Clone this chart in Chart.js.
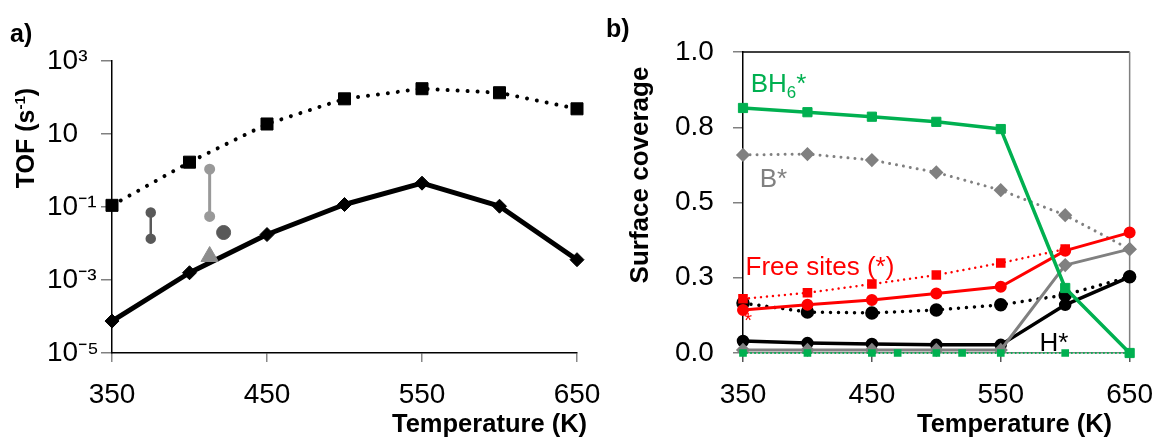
<!DOCTYPE html>
<html><head><meta charset="utf-8">
<script src="https://cdn.jsdelivr.net/npm/chart.js@4"></script>
<style>
html,body{margin:0;padding:0;background:#fff;}
#wrap{position:relative;width:1169px;height:437px;overflow:hidden;font-family:"Liberation Sans",Arial,sans-serif;}
canvas{position:absolute;left:0;top:0;}
.t{position:absolute;white-space:nowrap;font-weight:bold;color:#000;line-height:1;}
.t sup{font-size:60%;vertical-align:0.6em;line-height:0;}
.rot{transform:translate(-50%,-50%) rotate(-90deg);}
</style></head><body>
<div id="wrap">
<canvas id="ca" width="1169" height="437"></canvas>
<canvas id="cb" width="1169" height="437"></canvas>
<div class="t" style="left:10px;top:21px;font-size:25px;">a)</div>
<div class="t" style="left:606px;top:16px;font-size:25px;">b)</div>
<div class="t rot" style="left:25px;top:138px;font-size:25px;">TOF (s<sup>-1</sup>)</div>
<div class="t rot" style="left:639px;top:175px;font-size:26px;">Surface coverage</div>
<div class="t" style="left:392px;top:411px;font-size:25.5px;">Temperature (K)</div>
<div class="t" style="left:917px;top:411px;font-size:25.5px;">Temperature (K)</div>
</div>
<script>
// ---------- data: panel a ----------
const temps = [350, 400, 450, 500, 550, 600, 650];
const tofDotted = [0.111, 1.69, 18.8, 92, 174, 135, 49];
const tofSolid = [7.5e-5, 1.58e-3, 0.0176, 0.117, 0.45, 0.105, 3.6e-3];
const expBar1T = [375, 375];
const expBar1 = [0.071, 0.0136];
const expBar2T = [413, 413];
const expBar2 = [1.09, 0.055];
const expCircleT = [422];
const expCircle = [0.020];
const expTriT = [413];
const expTri = [0.0044];
const tofTickVals = [1e3, 1e1, 1e-1, 1e-3, 1e-5];
const tofTickLabels = ['10\u00B3', '10', '10\u207B\u00B9', '10\u207B\u00B3', '10\u207B\u2075'];
const tempTicks = [350, 450, 550, 650];

// ---------- data: panel b ----------
const bh6 = [0.814, 0.800, 0.785, 0.768, 0.744, 0.216, 0.0];
const bStar = [0.658, 0.661, 0.641, 0.600, 0.541, 0.458, 0.345];
const graySolid = [0.01, 0.01, 0.01, 0.01, 0.01, 0.292, 0.345];
const freeSolid = [0.143, 0.160, 0.176, 0.198, 0.220, 0.340, 0.400];
const freeDottedT = [350, 400, 450, 500, 550, 600];
const freeDotted = [0.180, 0.200, 0.229, 0.259, 0.299, 0.345];
const hSolid = [0.040, 0.033, 0.030, 0.027, 0.027, 0.160, 0.253];
const hDotted = [0.166, 0.136, 0.133, 0.143, 0.160, 0.193, 0.253];
const zeroT = [350, 400, 450, 470, 500, 520, 550, 600, 650];
const zeroVals = [0, 0, 0, 0, 0, 0, 0, 0, 0];
const covTickVals = [0, 0.25, 0.5, 0.75, 1.0];

const FONT = '"Liberation Sans", Arial, sans-serif';
const pts = (xs, ys) => xs.map((x, i) => ({x: x, y: ys[i]}));

const textLabels = {
  id: 'textLabels',
  afterDatasetsDraw(chart, args, opts) {
    const ctx = chart.ctx, xs = chart.scales.x, ys = chart.scales.y;
    (opts.items || []).forEach(it => {
      let px = xs.getPixelForValue(it.x);
      const py = ys.getPixelForValue(it.y);
      ctx.save();
      ctx.fillStyle = it.color;
      ctx.textBaseline = 'alphabetic';
      ctx.textAlign = 'left';
      it.parts.forEach(p => {
        const size = p.sub ? it.size * 0.65 : it.size;
        ctx.font = size + 'px ' + FONT;
        ctx.fillText(p.t, px, py + (p.sub ? it.size * 0.22 : 0));
        px += ctx.measureText(p.t).width;
      });
      ctx.restore();
    });
  }
};

const frame = {
  id: 'frame',
  beforeDatasetsDraw(chart) {
    const ctx = chart.ctx, a = chart.chartArea;
    ctx.save();
    ctx.lineWidth = 1.5;
    ctx.strokeStyle = '#000';
    ctx.beginPath(); ctx.moveTo(a.left, a.top); ctx.lineTo(a.right, a.top); ctx.stroke();
    ctx.strokeStyle = '#808080';
    ctx.beginPath(); ctx.moveTo(a.right, a.top); ctx.lineTo(a.right, a.bottom); ctx.stroke();
    ctx.restore();
  }
};

function xScale(tickColor, borderColor) {
  return {
    type: 'linear', min: 350, max: 650,
    afterBuildTicks: s => { s.ticks = tempTicks.map(v => ({value: v})); },
    afterFit: s => { s.height = 84; },
    ticks: {autoSkip: false, maxRotation: 0, color: '#000', padding: 16, font: {family: FONT, size: 28}},
    grid: {drawOnChartArea: false, drawTicks: true, tickLength: 9, color: tickColor, lineWidth: 1.5},
    border: {display: true, color: borderColor, width: 1.5}
  };
}

const common = {
  responsive: false, animation: false, devicePixelRatio: 1,
  plugins: {legend: {display: false}, tooltip: {enabled: false}},
  elements: {line: {tension: 0, borderJoinStyle: 'round'}, point: {hoverRadius: 0}}
};

// ---------- chart a ----------
new Chart(document.getElementById('ca'), {
  type: 'line',
  data: {datasets: [
    {data: pts(temps, tofDotted), borderColor: '#000', borderWidth: 4, borderDash: [0.01, 10], borderCapStyle: 'round',
     pointStyle: 'rect', pointRadius: 8.5, pointBackgroundColor: '#000', pointBorderColor: '#000', pointBorderWidth: 1, order: 1},
    {data: pts(temps, tofSolid), borderColor: '#000', borderWidth: 5,
     pointStyle: 'rectRot', pointRadius: 7, pointBackgroundColor: '#000', pointBorderColor: '#000', pointBorderWidth: 1, order: 2},
    {data: pts(expBar1T, expBar1), borderColor: '#595959', borderWidth: 2.5,
     pointStyle: 'circle', pointRadius: 4, pointBackgroundColor: '#595959', pointBorderColor: '#595959', order: 3},
    {data: pts(expBar2T, expBar2), borderColor: '#999999', borderWidth: 3,
     pointStyle: 'circle', pointRadius: 4, pointBackgroundColor: '#999999', pointBorderColor: '#999999', order: 3},
    {data: pts(expCircleT, expCircle), showLine: false,
     pointStyle: 'circle', pointRadius: 7, pointBackgroundColor: '#595959', pointBorderColor: '#595959', order: 3},
    {data: pts(expTriT, expTri), showLine: false,
     pointStyle: 'triangle', pointRadius: 10, pointBackgroundColor: '#8c8c8c', pointBorderColor: '#8c8c8c', order: 0}
  ]},
  options: Object.assign({}, common, {
    layout: {padding: {left: 47, right: 1169 - 577, top: 61, bottom: 0}},
    clip: false,
    scales: {
      x: xScale('#888888', '#000'),
      y: {
        type: 'logarithmic', min: 1e-5, max: 1e3,
        afterBuildTicks: s => { s.ticks = tofTickVals.map(v => ({value: v})); },
        afterFit: s => { s.width = 65; },
        ticks: {autoSkip: false, crossAlign: 'far', color: '#000', font: {family: FONT, size: 28},
                callback: (v, i) => tofTickLabels[i]},
        grid: {drawOnChartArea: false, drawTicks: true, tickLength: 11, color: '#808080', lineWidth: 1.5},
        border: {display: true, color: '#000', width: 1.5}
      }
    }
  })
});

// ---------- chart b ----------
const G = '#00B050', R = '#FF0000', GR = '#808080';
new Chart(document.getElementById('cb'), {
  type: 'line',
  data: {datasets: [
    {data: pts(temps, bh6), borderColor: G, borderWidth: 3.5,
     pointStyle: 'rect', pointRadius: 6.5, pointBackgroundColor: G, pointBorderColor: G, pointBorderWidth: 1, order: 0},
    {data: pts(zeroT, zeroVals), borderColor: G, borderWidth: 2, borderDash: [0.01, 4], borderCapStyle: 'round',
     pointStyle: 'rect', pointRadius: 4, pointBackgroundColor: G, pointBorderColor: G, order: 1},
    {data: pts(temps, graySolid), borderColor: GR, borderWidth: 3,
     pointStyle: 'rectRot', pointRadius: 5, pointBackgroundColor: GR, pointBorderColor: GR, order: 4},
    {data: pts(temps, bStar), borderColor: GR, borderWidth: 3, borderDash: [0.01, 7], borderCapStyle: 'round',
     pointStyle: 'rectRot', pointRadius: 5, pointBackgroundColor: GR, pointBorderColor: GR, order: 5},
    {data: pts(temps, freeSolid), borderColor: R, borderWidth: 3,
     pointStyle: 'circle', pointRadius: 4.5, pointBackgroundColor: R, pointBorderColor: R, order: 2},
    {data: pts(freeDottedT, freeDotted), borderColor: R, borderWidth: 2.5, borderDash: [0.01, 6], borderCapStyle: 'round',
     pointStyle: 'rect', pointRadius: 5, pointBackgroundColor: R, pointBorderColor: R, order: 3},
    {data: pts(temps, hSolid), borderColor: '#000', borderWidth: 3.5,
     pointStyle: 'circle', pointRadius: 4.5, pointBackgroundColor: '#000', pointBorderColor: '#000', order: 6},
    {data: pts(temps, hDotted), borderColor: '#000', borderWidth: 3.5, borderDash: [0.01, 8], borderCapStyle: 'round',
     pointStyle: 'circle', pointRadius: 5, pointBackgroundColor: '#000', pointBorderColor: '#000', order: 7}
  ]},
  plugins: [frame, textLabels],
  options: Object.assign({}, common, {
    layout: {padding: {left: 675, right: 1169 - 1140, top: 52, bottom: 0}},
    clip: false,
    plugins: {
      legend: {display: false}, tooltip: {enabled: false},
      textLabels: {items: [
        {x: 356, y: 0.867, color: G, size: 26, parts: [{t: 'BH'}, {t: '6', sub: true}, {t: '*'}]},
        {x: 363, y: 0.551, color: GR, size: 26, parts: [{t: 'B*'}]},
        {x: 352, y: 0.259, color: R, size: 26, parts: [{t: 'Free sites (*)'}]},
        {x: 351, y: 0.085, color: R, size: 20, parts: [{t: '*'}]},
        {x: 580, y: 0.007, color: '#000', size: 26, parts: [{t: 'H*'}]}
      ]}
    },
    scales: {
      x: xScale('#555555', '#808080'),
      y: {
        type: 'linear', min: 0, max: 1,
        afterBuildTicks: s => { s.ticks = covTickVals.map(v => ({value: v})); },
        afterFit: s => { s.width = 68; },
        ticks: {autoSkip: false, crossAlign: 'far', color: '#000', font: {family: FONT, size: 28},
                callback: v => Number(v).toFixed(1)},
        grid: {drawOnChartArea: false, drawTicks: true, tickLength: 10, color: '#808080', lineWidth: 1.5},
        border: {display: true, color: '#000', width: 1.5}
      }
    }
  })
});
</script>
</body></html>
